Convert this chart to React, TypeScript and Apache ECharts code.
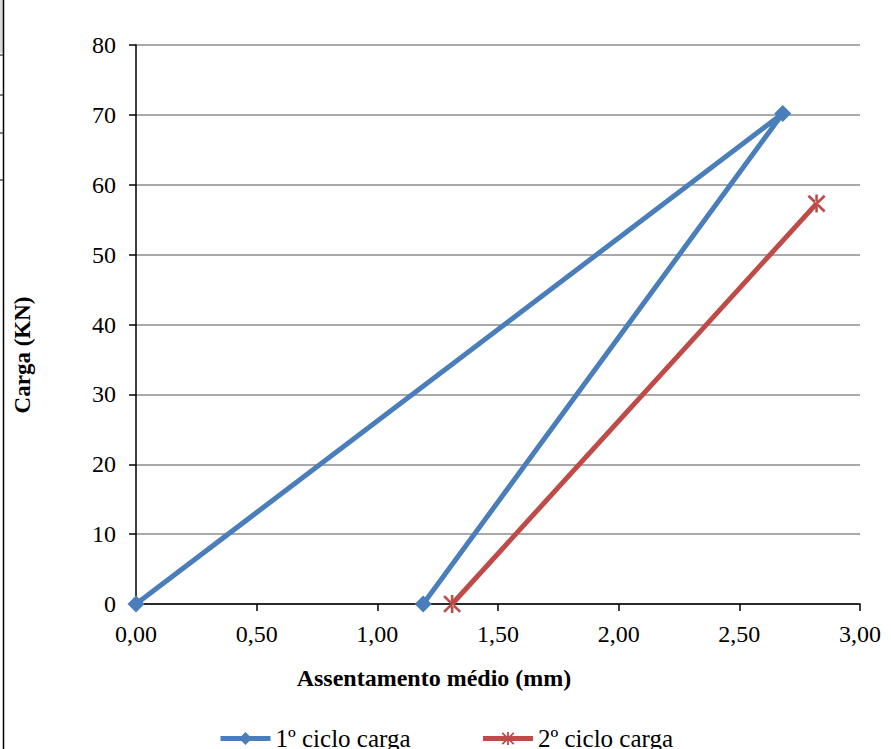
import React, { useEffect, useRef } from "react";
import * as echarts from "echarts";

const seriesNames = ["1º ciclo carga", "2º ciclo carga"];
const cycle1X = [0.0, 2.68, 1.19];
const cycle1Y = [0, 70.2, 0];
const cycle2X = [1.31, 2.82];
const cycle2Y = [0, 57.3];
const xTicks = [0, 0.5, 1, 1.5, 2, 2.5, 3];
const yTicks = [0, 10, 20, 30, 40, 50, 60, 70, 80];
const xTitle = "Assentamento médio (mm)";
const yTitle = "Carga (KN)";

const FONT = "Liberation Serif";
const STAR =
  "path://M-1.1,-8L1.1,-8L1.1,8L-1.1,8Z M-7.8,-6.2L6.2,7.8L7.8,6.2L-6.2,-7.8Z M6.2,-7.8L7.8,-6.2L-6.2,7.8L-7.8,6.2Z";

export default function App() {
  const ref = useRef<HTMLDivElement>(null);
  useEffect(() => {
    if (!ref.current) return;
    const chart = echarts.init(ref.current, null, { renderer: "svg" });
    const pairs = (xs: number[], ys: number[]) => xs.map((x, i) => [x, ys[i]]);
    chart.setOption({
      animation: false,
      backgroundColor: "#ffffff",
      textStyle: { fontFamily: FONT },
      grid: { left: 136, right: 31, top: 45, bottom: 145 },
      xAxis: {
        type: "value",
        min: xTicks[0],
        max: xTicks[xTicks.length - 1],
        interval: 0.5,
        axisLine: { show: true, lineStyle: { color: "#000", width: 1.5 } },
        axisTick: { show: true, inside: false, length: 7, lineStyle: { color: "#000", width: 1.5 } },
        splitLine: { show: false },
        axisLabel: {
          fontFamily: FONT,
          fontSize: 24,
          color: "#000",
          margin: 18,
          formatter: (v: number) => v.toFixed(2).replace(".", ","),
        },
      },
      yAxis: {
        type: "value",
        min: yTicks[0],
        max: yTicks[yTicks.length - 1],
        interval: 10,
        axisLine: { show: true, lineStyle: { color: "#000", width: 1.5 } },
        axisTick: { show: true, inside: false, length: 7, lineStyle: { color: "#000", width: 1.5 } },
        splitLine: { show: true, lineStyle: { color: "#8c8c8c", width: 1.5 } },
        axisLabel: { fontFamily: FONT, fontSize: 24, color: "#000", margin: 20 },
      },
      legend: {
        left: "center",
        top: 721,
        itemWidth: 50,
        itemHeight: 16,
        itemGap: 70,
        lineStyle: { width: 5 },
        textStyle: { fontFamily: FONT, fontSize: 25, color: "#000" },
        data: seriesNames,
      },
      graphic: [
        {
          type: "text",
          x: 22,
          y: 355,
          rotation: Math.PI / 2,
          style: {
            text: yTitle,
            fontFamily: FONT,
            fontSize: 23,
            fontWeight: "bold",
            fill: "#000",
            textAlign: "center",
            textVerticalAlign: "middle",
          },
        },
        {
          type: "text",
          x: 434,
          y: 678,
          style: {
            text: xTitle,
            fontFamily: FONT,
            fontSize: 24,
            fontWeight: "bold",
            fill: "#000",
            textAlign: "center",
            textVerticalAlign: "middle",
          },
        },
        { type: "rect", shape: { x: 0, y: 0, width: 3, height: 53 }, style: { fill: "#d9d9d9" } },
        { type: "line", shape: { x1: 3.5, y1: 0, x2: 3.5, y2: 749 }, style: { stroke: "#000", lineWidth: 1.5 } },
        { type: "line", shape: { x1: 0, y1: 55, x2: 3, y2: 55 }, style: { stroke: "#000", lineWidth: 1 } },
        { type: "line", shape: { x1: 0, y1: 95, x2: 3, y2: 95 }, style: { stroke: "#000", lineWidth: 1 } },
        { type: "line", shape: { x1: 0, y1: 133, x2: 3, y2: 133 }, style: { stroke: "#000", lineWidth: 1 } },
        { type: "line", shape: { x1: 0, y1: 180, x2: 3, y2: 180 }, style: { stroke: "#000", lineWidth: 1 } },
      ],
      series: [
        {
          name: seriesNames[0],
          type: "line",
          data: pairs(cycle1X, cycle1Y),
          color: "#4a7ebb",
          lineStyle: { width: 5, color: "#4a7ebb" },
          symbol: "diamond",
          symbolSize: 17,
          itemStyle: { color: "#4a7ebb" },
          z: 3,
        },
        {
          name: seriesNames[1],
          type: "line",
          data: pairs(cycle2X, cycle2Y),
          color: "#be4b48",
          lineStyle: { width: 5, color: "#be4b48" },
          symbol: STAR,
          symbolSize: 18,
          itemStyle: { color: "#be4b48" },
          z: 2,
        },
      ],
    });
    return () => chart.dispose();
  }, []);
  return (
    <div
      ref={ref}
      style={{ position: "fixed", left: 0, top: 0, width: 891, height: 749, background: "#fff" }}
    />
  );
}
